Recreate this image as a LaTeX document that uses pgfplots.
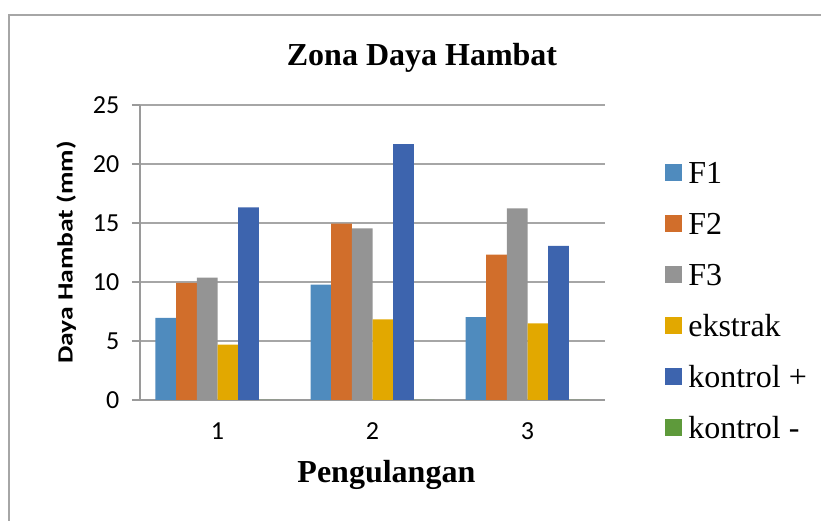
\documentclass[border=0pt]{standalone}
\usepackage{pgfplots}
\pgfplotsset{compat=1.18}
\usepackage{fontspec}
\setmainfont{Liberation Serif}
\newfontfamily\calibri{Carlito}
\newfontfamily\calibrilab[FakeStretch=1.27]{Carlito}
\definecolor{cF1}{HTML}{4F8BBE}
\definecolor{cF2}{HTML}{D16E2B}
\definecolor{cF3}{HTML}{949494}
\definecolor{cEk}{HTML}{E2A800}
\definecolor{cKp}{HTML}{3D64AE}
\definecolor{cKm}{HTML}{5E9A3B}
\definecolor{axgray}{HTML}{9A9A9A}
\definecolor{gridgray}{HTML}{A6A6A6}
\definecolor{framegray}{HTML}{A6A6A6}
\pgfplotsset{sq/.style={legend image code/.code={\fill[##1] (0pt,-6.5pt) rectangle (12.5pt,6pt);}}}
\begin{document}
\begin{tikzpicture}
\path[use as bounding box] (0pt,0pt) rectangle (615.75pt,390.75pt);
\draw[framegray, line width=1.5pt] (6.9pt,0pt) -- (6.9pt,379.5pt) -- (615.75pt,379.5pt);
\begin{axis}[
  at={(105pt,90.75pt)}, anchor=south west,
  scale only axis, width=348.75pt, height=221.25pt,
  ybar=0pt, bar width=15.5pt,
  xmin=0.5, xmax=3.5, ymin=0, ymax=25,
  xtick={1,2,3}, ytick={0,5,10,15,20,25},
  extra x ticks={0.5,1.5,2.5,3.5}, extra x tick labels={},
  extra x tick style={major tick length=6pt, tick style={draw=axgray, line width=1pt}},
  major x tick style={draw=none},
  axis x line*=bottom, axis y line*=left,
  axis line style={draw=axgray, line width=1pt, -},
  ymajorgrids, grid style={draw=gridgray, line width=1pt},
  tick align=outside, major tick length=6pt,
  ytick style={draw=axgray, line width=1pt},
  /pgf/number format/assume math mode=true,
  ticklabel style={font=\calibri\fontsize{19.5}{22}\selectfont},
  yticklabel style={xshift=-6pt},
  xticklabel style={yshift=-7.5pt},
  legend style={at={(1.129,0.8078)}, anchor=north west, draw=none, fill=none,
    inner sep=0pt, outer sep=0pt, row sep=22.25pt,
    font=\fontsize{24}{28}\selectfont,
    nodes={inner sep=0pt, text height=16pt, text depth=0pt},
    /tikz/every odd column/.append style={column sep=5pt}},
  legend cell align=left,
]
\addplot[fill=cF1, draw=none, sq] coordinates {(1,6.97) (2,9.78) (3,7.03)};
\addplot[fill=cF2, draw=none, sq] coordinates {(1,9.92) (2,14.94) (3,12.33)};
\addplot[fill=cF3, draw=none, sq] coordinates {(1,10.37) (2,14.54) (3,16.24)};
\addplot[fill=cEk, draw=none, sq] coordinates {(1,4.70) (2,6.83) (3,6.49)};
\addplot[fill=cKp, draw=none, sq] coordinates {(1,16.33) (2,21.68) (3,13.07)};
\addplot[fill=cKm, draw=none, sq] coordinates {(1,0) (2,0) (3,0)};
\legend{F1, F2, F3, ekstrak, kontrol +, kontrol -}
\end{axis}
\node[anchor=base, font=\bfseries\fontsize{24}{28}\selectfont] at (316.5pt,341.5pt) {Zona Daya Hambat};
\node[anchor=base, font=\bfseries\fontsize{24}{28}\selectfont] at (289.8pt,28.7pt) {Pengulangan};
\node[anchor=base, rotate=90, font=\calibrilab\bfseries\fontsize{16.3}{19}\selectfont] at (54.5pt,201.4pt) {Daya Hambat (mm)};
\end{tikzpicture}
\end{document}
